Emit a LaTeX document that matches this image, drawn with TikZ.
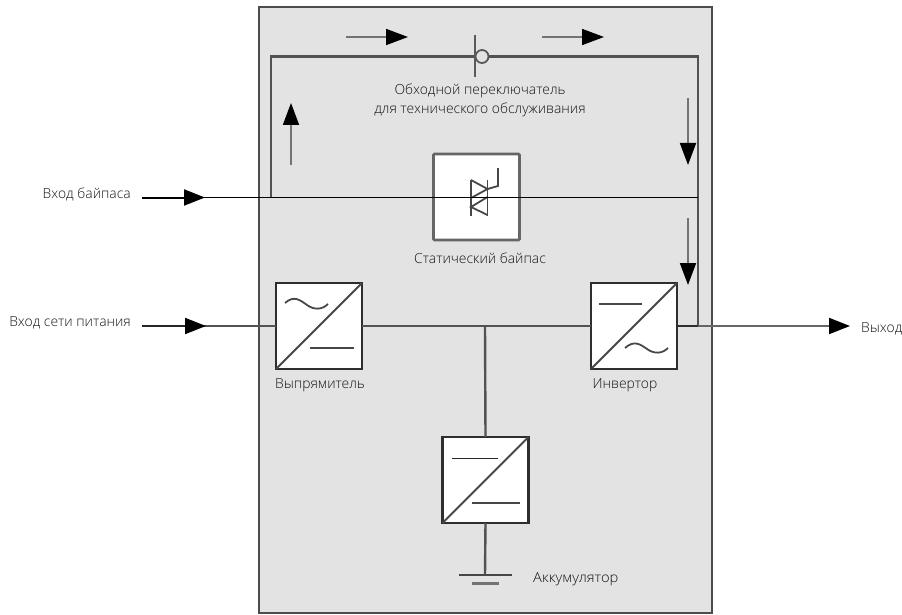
\documentclass[tikz,border=0pt]{standalone}
\usepackage{fontspec}
\setmainfont{Open Sans Light}
\usetikzlibrary{arrows.meta}
\tikzset{
  x=1pt,y=-1pt,
  frame/.style={fill=black!11,draw=black!70,line width=2pt},
  wire/.style={draw=black!68,line width=2.4pt},
  blackwire/.style={draw=black,line width=1.7pt},
  conv/.style={draw=black!82,line width=2.2pt,fill=white,minimum size=86pt,inner sep=0pt,outer sep=0pt},
  bypassbox/.style={draw=black!60,line width=2.6pt,fill=white,minimum size=86pt,inner sep=0pt,outer sep=0pt,rounded corners=1pt},
  glyph/.style={draw=black!72,line width=1.8pt},
  flow/.style={draw=black!55,line width=1.8pt,-{Triangle[length=22pt,width=16pt,black]}},
  inflow/.style={draw=black!85,line width=2pt,-{Triangle[length=21pt,width=16pt,black]}},
  lab/.style={font=\fontsize{13.9}{19}\selectfont,text=black!92,inner sep=0pt,align=center},
}
\begin{document}
\begin{tikzpicture}
\useasboundingbox (0,0) rectangle (902,615);
\node[frame,minimum width=453pt,minimum height=606pt,inner sep=0pt,outer sep=0pt] (frame) at (485.5,310) {};

% junctions
\coordinate (tl) at (271,56.5);
\coordinate (tr) at (698,56.5);
\coordinate (bl) at (271,197.5);
\coordinate (br) at (698,197.5);
\coordinate (inj) at (698,326);
\coordinate (busj) at (485,326);
\coordinate (gnd) at (485,575);
\coordinate (swa) at (475,56.5);
\node[draw=black!65,line width=1.8pt,circle,minimum size=13pt,inner sep=0pt,outer sep=0pt,fill=black!11] (swc) at (482,56.5) {};

% top loop
\draw[wire] (bl) -- (tl) -- (swa);
\draw[wire] (swc) -- (tr) -- (inj);
\draw[draw=black!65,line width=1.9pt] (475,35) -- (475,77);

% boxes
\node[bypassbox] (sbs) at (476.5,197) {};
\node[conv] (rect) at (319,326) {};
\node[conv] (inv) at (634,326) {};
\node[conv] (dc) at (485.5,480) {};

% thyristor
\draw[glyph] (471,180) -- (471,216) (487.5,180) -- (487.5,216);
\draw[glyph] (471,180) -- (487.5,189) -- (471,198);
\draw[glyph] (487.5,197) -- (471,207) -- (487.5,215);
\draw[glyph] (487.5,189) -- (498,186) -- (498,168);

% mains wires
\coordinate (mainsin) at (142,326);
\coordinate (bypassin) at (142,197.5);
\coordinate (outend) at (850,326);
\draw[wire] (mainsin) -- (rect.west);
\draw[wire] (rect.east) -- (inv.west);
\draw[wire] (busj) -- (dc.north);
\draw[wire] (dc.south) -- (gnd);
\draw[inflow,draw=black!60] (inv.east) -- (outend);
\draw[draw=black!82,line width=2.2pt] (inv.east) -- (inj);
\draw[inflow] (mainsin) -- (206,326);
\draw[blackwire] (bypassin) -- (br);
\draw[inflow,draw=black] (bypassin) -- (205,197.5);

% converter glyphs
\draw[glyph] (rect.south west) -- (rect.north east);
\draw[glyph] (inv.south west) -- (inv.north east);
\draw[glyph] (dc.south west) -- (dc.north east);
\draw[glyph] (285,303) .. controls (294,295) and (300,300) .. (307,305) .. controls (314,310) and (322,310) .. (328,304);
\draw[glyph] (310,348) -- (354,348);
\draw[glyph] (599,304) -- (642,304);
\draw[glyph] (625,348) .. controls (634,340) and (640,344) .. (647,349) .. controls (654,354) and (662,354) .. (668,348);
\draw[glyph,draw=black!85] (452,458.5) -- (498,458.5);
\draw[glyph] (472,503) -- (520,503);

% ground
\draw[glyph,line width=2pt] (459,575) -- (512,575);
\draw[draw=black!55,line width=3.2pt] (472,583.5) -- (499,583.5);

% flow arrows
\coordinate (a1) at (346,37); \coordinate (a2) at (408,37);
\coordinate (b1) at (542,37); \coordinate (b2) at (604,37);
\coordinate (c1) at (291,165); \coordinate (c2) at (291,103);
\coordinate (d1) at (688,98); \coordinate (d2) at (688,165);
\coordinate (e1) at (688,218); \coordinate (e2) at (688,285);
\draw[flow] (a1) -- (a2);
\draw[flow] (b1) -- (b2);
\draw[flow] (c1) -- (c2);
\draw[flow] (d1) -- (d2);
\draw[flow] (e1) -- (e2);

% labels
\node[lab] (l1) at (480,100) {Обходной переключатель\\для технического обслуживания};
\node[lab] (l2) at (480,258) {Статический байпас};
\node[lab,anchor=east] (l3) at (131,194) {Вход байпаса};
\node[lab,anchor=east] (l4) at (131,323) {Вход сети питания};
\node[lab,anchor=west] (l5) at (861,329) {Выход};
\node[lab] (l6) at (320,385) {Выпрямитель};
\node[lab] (l7) at (625,385) {Инвертор};
\node[lab,anchor=west,xscale=1.06] (l8) at (533,579) {Аккумулятор};
\end{tikzpicture}
\end{document}
